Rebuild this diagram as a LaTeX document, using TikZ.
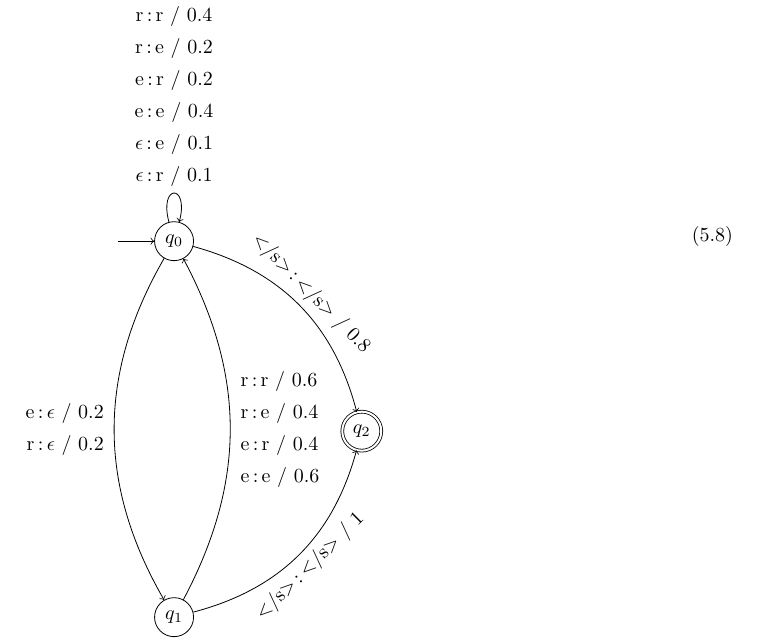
\documentclass[tikz,border=0pt]{standalone}
\usepackage{amsmath}
\usetikzlibrary{positioning}

\begin{document}
\begin{tikzpicture}[
    on grid,
    qstate/.style={draw, circle, minimum size=19.5pt, inner sep=0pt},
    accstate/.style={qstate, double, double distance=1pt},
    trans/.style={->},
    lbl/.style={inner sep=3pt},
    sidelbl/.style={lbl, inner sep=5pt},
  ]
  \useasboundingbox (-3.06,-6.96) rectangle (10.60,4.24);

  % --- states ---
  \node[qstate] (q0) {$q_0$};
  \node[qstate, below=6.61cm of q0] (q1) {$q_1$};
  \node[accstate, below right=3.34cm and 3.30cm of q0] (q2) {$q_2$};
  \coordinate[left=28.25pt of q0] (start);

  % --- equation number ---
  \node[anchor=east] (eqno) at (9.95,0.09) {(5.8)};

  % --- initial arrow and self-loop ---
  \draw[trans] (start) -- (q0);
  \draw[trans] (q0) to[loop above, min distance=7mm]
    node[lbl, above, align=center]
    {r\,:\,r / 0.4\\[4pt] r\,:\,e / 0.2\\[4pt] e\,:\,r / 0.2\\[4pt]
     e\,:\,e / 0.4\\[4pt] $\epsilon$\,:\,e / 0.1\\[4pt] $\epsilon$\,:\,r / 0.1} (q0);

  % --- arrows between q0 and q1 ---
  \draw[trans] (q0) to[bend right=30]
    node[sidelbl, left, align=right] {e\,:\,$\epsilon$ / 0.2\\[4pt] r\,:\,$\epsilon$ / 0.2} (q1);
  \draw[trans] (q1) to[bend right=28]
    node[sidelbl, right, align=left]
    {r\,:\,r / 0.6\\[4pt] r\,:\,e / 0.4\\[4pt] e\,:\,r / 0.4\\[4pt] e\,:\,e / 0.6} (q0);

  % --- arrows into the final state ---
  \draw[trans] (q0) to[bend left=30]
    node[lbl, sloped, above] {\textless/s\textgreater\,:\,\textless/s\textgreater{} / 0.8} (q2);
  \draw[trans] (q1) to[bend right=30]
    node[lbl, sloped, below] {\textless/s\textgreater\,:\,\textless/s\textgreater{} / 1} (q2);
\end{tikzpicture}
\end{document}
